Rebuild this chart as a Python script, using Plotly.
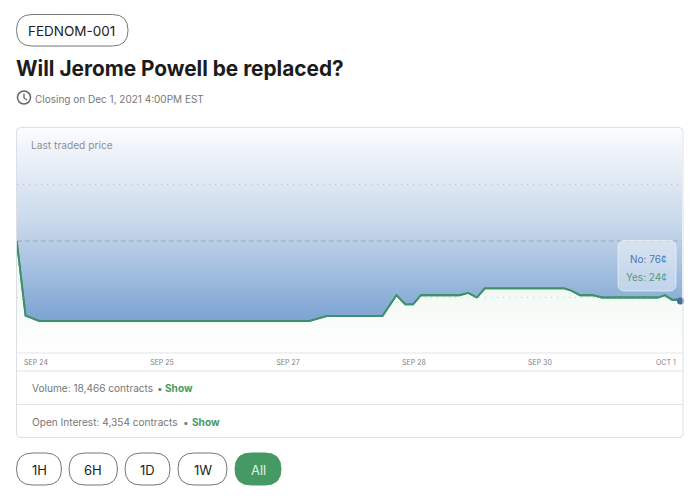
import plotly.graph_objects as go

# ---- data ----
times = ["2021-09-23 18:30", "2021-09-23 21:00", "2021-09-24 01:00", "2021-09-27 06:00",
         "2021-09-27 11:00", "2021-09-28 03:00", "2021-09-28 07:00", "2021-09-28 09:30",
         "2021-09-28 11:45", "2021-09-28 14:00", "2021-09-29 01:00", "2021-09-29 03:30",
         "2021-09-29 06:00", "2021-09-29 08:15", "2021-09-30 07:00", "2021-09-30 09:00",
         "2021-09-30 11:30", "2021-09-30 15:00", "2021-09-30 17:45", "2021-10-01 09:45",
         "2021-10-01 11:45", "2021-10-01 13:45", "2021-10-01 15:30", "2021-10-01 16:36"]
yes_price = [50, 17, 14.6, 14.6, 16.8, 16.8, 26, 22, 22, 26, 26, 27, 25, 29, 29, 28, 26, 26,
             25, 25, 26, 24, 24, 22.5]
ceiling = [100] * len(times)
grid_dotted = [25, 75]
grid_dashed = [50]
tick_times = ["2021-09-24 00:00", "2021-09-25 12:00", "2021-09-27 00:00",
              "2021-09-28 12:00", "2021-09-30 00:00", "2021-10-01 12:00"]
tick_labels = ["SEP 24", "SEP 25", "SEP 27", "SEP 28", "SEP 30", "OCT 1"]
last_time = ["2021-10-01 16:10"]
last_value = [23.5]
range_labels = ["1H", "6H", "1D", "1W", "All"]
range_spans = [(16.5, 61.5), (69, 117.5), (125, 170), (178, 227), (235, 281)]

W, H = 700, 499
FONT = "Inter"
GREEN = "#3f8f69"
BTN_GREEN = "#459a63"
BLUE = "#4a76b4"


def px(x):
    return x / W


def py(y):
    return 1 - y / H


def rounded(x0, y0, x1, y1, r):
    X = px
    Y = py
    rx = r / W
    ry = r / H
    return (f"M {X(x0)+rx} {Y(y0)} L {X(x1)-rx} {Y(y0)} Q {X(x1)} {Y(y0)} {X(x1)} {Y(y0)-ry} "
            f"L {X(x1)} {Y(y1)+ry} Q {X(x1)} {Y(y1)} {X(x1)-rx} {Y(y1)} "
            f"L {X(x0)+rx} {Y(y1)} Q {X(x0)} {Y(y1)} {X(x0)} {Y(y1)+ry} "
            f"L {X(x0)} {Y(y0)-ry} Q {X(x0)} {Y(y0)} {X(x0)+rx} {Y(y0)} Z")


def box(x0, y0, x1, y1, r, line, fill="rgba(0,0,0,0)", width=1, layer="above"):
    return dict(type="path", xref="paper", yref="paper", path=rounded(x0, y0, x1, y1, r),
                line=dict(color=line, width=width), fillcolor=fill, layer=layer)


def label(x, y, text, size, color, anchor="left", weight=400):
    return dict(x=px(x), y=py(y), xref="paper", yref="paper", text=text, showarrow=False,
                xanchor=anchor, yanchor="middle", borderpad=0, borderwidth=0,
                font=dict(family=FONT, size=size, color=color, weight=weight))


fig = go.Figure()

fig.add_trace(go.Scatter(
    x=times, y=yes_price, mode="lines", fill="tozeroy",
    line=dict(color=GREEN, width=1.8),
    fillgradient=dict(type="vertical", start=29, stop=0,
                      colorscale=[[0, "#f2f9f4"], [1, "#ffffff"]]),
    hoverinfo="skip", showlegend=False))
fig.add_trace(go.Scatter(
    x=times, y=ceiling, mode="lines", fill="tonexty",
    line=dict(color="rgba(0,0,0,0)", width=0),
    fillgradient=dict(type="vertical", start=100, stop=15,
                      colorscale=[[0, "#fbfcfe"], [0.5, "#c8d8eb"], [1, "#7ca4d3"]]),
    hoverinfo="skip", showlegend=False))
fig.add_trace(go.Scatter(
    x=times, y=yes_price, mode="lines",
    line=dict(color=GREEN, width=1.8), hoverinfo="skip", showlegend=False))
fig.add_trace(go.Scatter(
    x=last_time, y=last_value, mode="markers", cliponaxis=False,
    marker=dict(color="#44709f", size=7), hoverinfo="skip", showlegend=False))

shapes = []
for v in grid_dotted:
    shapes.append(dict(type="line", xref="paper", yref="y", x0=px(17), x1=px(682), y0=v, y1=v,
                       line=dict(color="rgba(150,160,175,0.55)", width=1, dash="1px 5px")))
for v in grid_dashed:
    shapes.append(dict(type="line", xref="paper", yref="y", x0=px(17), x1=px(682), y0=v, y1=v,
                       line=dict(color="rgba(130,145,165,0.6)", width=1, dash="5px 3px")))

# card, separators
shapes.append(box(16.5, 127.5, 683, 437.5, 4, "#dcdfe3"))
for yy in (371, 404.5):
    shapes.append(dict(type="line", xref="paper", yref="paper", x0=px(17), x1=px(683),
                       y0=py(yy), y1=py(yy), line=dict(color="#e2e4e7", width=1)))
shapes.append(dict(type="line", xref="paper", yref="paper", x0=px(17), x1=px(683),
                   y0=py(353), y1=py(353), line=dict(color="#e2e4e7", width=1)))

# id pill
shapes.append(box(16.5, 14.5, 128, 46, 15.5, "#777777"))

# clock icon
shapes.append(dict(type="circle", xref="paper", yref="paper",
                   x0=px(17.5), x1=px(30.5), y0=py(91), y1=py(104),
                   line=dict(color="#666666", width=1.5)))
shapes.append(dict(type="path", xref="paper", yref="paper",
                   path=f"M {px(24)} {py(93.5)} L {px(24)} {py(98)} L {px(27)} {py(100)}",
                   line=dict(color="#666666", width=1.3)))

# tooltip
shapes.append(box(618, 240.5, 676, 291, 7, "rgba(255,255,255,0.55)",
                  fill="rgba(255,255,255,0.42)"))

annotations = [
    label(28, 31, "FEDNOM-001", 13.5, "#222222"),
    label(16, 68.5, "Will Jerome Powell be replaced?", 20.8, "#1c1c1c", weight=700),
    label(35, 98.5, "Closing on Dec 1, 2021 4:00PM EST", 10, "#777777"),
    label(31, 145, "Last traded price", 10.2, "#8a8f96"),
    label(667, 258.5, "No: 76¢", 10, BLUE, anchor="right"),
    label(667, 277, "Yes: 24¢", 10, "#4f9d78", anchor="right"),
    label(32, 388, "Volume: 18,466 contracts", 10.1, "#777777"),
    label(157, 387.5, "•", 10, "#777777"),
    label(165, 388, "Show", 10.1, BTN_GREEN, weight=700),
    label(32, 422, "Open Interest: 4,354 contracts", 10.1, "#777777"),
    label(183, 421.5, "•", 10, "#777777"),
    label(191.5, 422, "Show", 10.1, BTN_GREEN, weight=700),
]

for name, (x0, x1) in zip(range_labels, range_spans):
    active = name == "All"
    shapes.append(box(x0, 453, x1, 485, 16, BTN_GREEN if active else "#777777",
                      fill=BTN_GREEN if active else "rgba(0,0,0,0)"))
    annotations.append(label((x0 + x1) / 2, 469.5, name, 13,
                             "#e4f1e8" if active else "#222222", anchor="center"))

fig.update_layout(
    width=W, height=H, margin=dict(l=0, r=0, t=0, b=0),
    paper_bgcolor="white", plot_bgcolor="white",
    shapes=shapes, annotations=annotations,
    xaxis=dict(domain=[px(17), px(682)], type="date",
               range=["2021-09-23 18:34", "2021-10-01 16:36"],
               tickmode="array", tickvals=tick_times, ticktext=tick_labels,
               tickfont=dict(family=FONT, size=7, color="#808080"),
               showgrid=False, zeroline=False, showline=False, ticks="", ticklabelstandoff=3),
    yaxis=dict(domain=[py(354), py(128)], range=[0, 100], visible=False, showgrid=False),
)

fig.write_html("out.html", config={"displayModeBar": False},
               post_script="document.body.style.margin='0';document.body.style.overflow='hidden';")
